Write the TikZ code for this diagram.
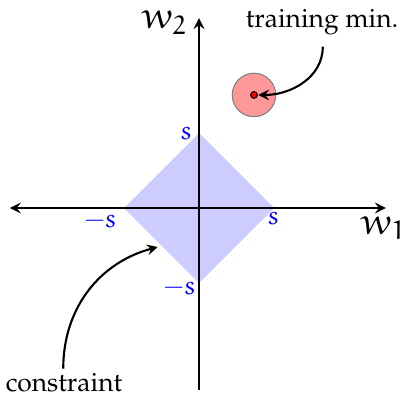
\documentclass[tikz,border=0pt]{standalone}
\usepackage[T1]{fontenc}
\usepackage{mathpazo}
\usepackage{euler}
\usetikzlibrary{arrows}

\begin{document}
\begin{tikzpicture}[
    axis/.style={stealth-stealth, thick},
    pointer/.style={-stealth, thick},
    bound/.style={blue, inner sep=1pt}
  ]

  \useasboundingbox (-2.653,-2.507) rectangle (2.733,2.773);

  %% Constraint region
  \fill[blue!20] (0,1) coordinate (top) -- (1,0) coordinate (right)
    -- (0,-1) coordinate (bottom) -- (-1,0) coordinate (left) -- cycle;

  %% Axes
  \coordinate (xl) at (-2.52,0);
  \coordinate (xr) at (2.49,0);
  \coordinate (yb) at (0,-2.43);
  \coordinate (yt) at (0,2.53);
  \draw[axis] (xl) -- (xr);
  \draw[-stealth, thick] (yb) -- (yt);
  \node (wone) at (2.46,-0.27) {\Large $w_1$};
  \node (wtwo) at (-0.46,2.47) {\Large $w_2$};

  %% Bound labels
  \node[bound, anchor=east] (stop) at ([xshift=-0.05cm]top) {$s$};
  \node[bound] (sright) at (0.99,-0.14) {$s$};
  \node[bound] (sleft) at (-1.31,-0.17) {$-s$};
  \node[bound, anchor=east] (sbottom) at ([yshift=-0.06cm]bottom) {$-s$};

  %% Training minimum
  \filldraw[red!40, draw=gray] (0.733,1.507) circle (0.29);
  \filldraw[red, draw=black, thin] (0.733,1.507) circle (0.045);
  \coordinate (minpt) at (0.79,1.507);
  \node (trainlbl) at (1.64,2.48) {training min.};
  \draw[pointer] (1.65,2.15) to[out=-90, in=0] (minpt);

  %% Constraint label
  \node (conlbl) at (-1.8,-2.33) {constraint};
  \coordinate (conpt) at (-0.55,-0.52);
  \draw[pointer] (-1.81,-2.14) to[out=90, in=195] (conpt);

\end{tikzpicture}
\end{document}
